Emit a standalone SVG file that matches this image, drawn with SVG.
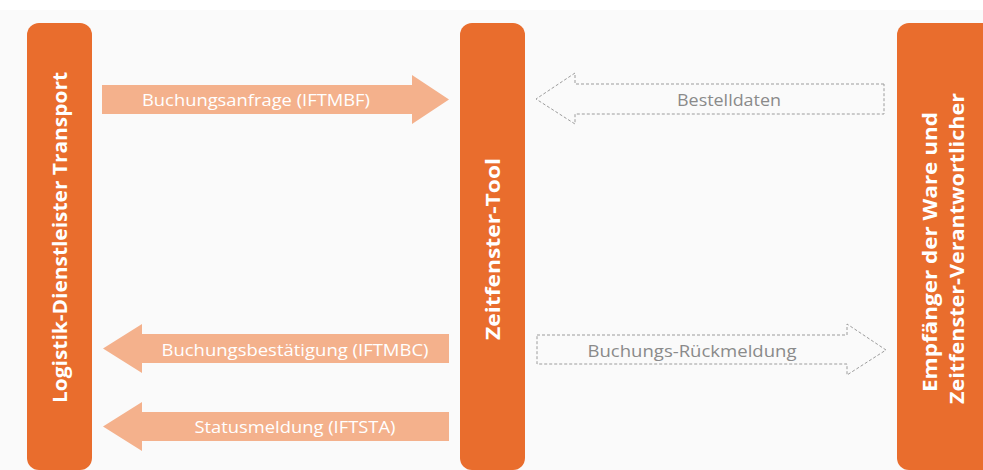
<svg xmlns="http://www.w3.org/2000/svg" width="983" height="470" viewBox="0 0 983 470">
  <defs>
    <style>
      .bar { fill: #e96d2d; }
      .bar-label { fill: #ffffff; font-family: "Open Sans", "Liberation Sans", sans-serif; font-weight: bold; font-size: 20px; text-anchor: middle; }
      .solid-arrow { fill: #f4b18c; }
      .solid-label { fill: #ffffff; font-family: "Open Sans", "Liberation Sans", sans-serif; font-size: 17px; text-anchor: middle; }
      .dashed-arrow { fill: none; stroke: #9c9c9c; stroke-width: 1; stroke-dasharray: 3 2; }
      .dashed-label { fill: #8a8a8a; font-family: "Open Sans", "Liberation Sans", sans-serif; font-size: 17px; text-anchor: middle; }
    </style>
  </defs>

  <!-- page background -->
  <rect x="0" y="0" width="983" height="470" fill="#ffffff"/>
  <rect x="0" y="10" width="983" height="460" fill="#fafafa"/>

  <!-- participants -->
  <g id="logistik-dienstleister">
    <rect class="bar" x="27" y="23" width="65" height="447" rx="12" ry="12"/>
    <text class="bar-label" transform="translate(67,237.5) rotate(-90)" textLength="331" lengthAdjust="spacingAndGlyphs">Logistik-Dienstleister Transport</text>
  </g>

  <g id="zeitfenster-tool">
    <rect class="bar" x="460" y="23" width="65" height="447" rx="12" ry="12"/>
    <text class="bar-label" transform="translate(499.5,249) rotate(-90)" textLength="182" lengthAdjust="spacingAndGlyphs">Zeitfenster-Tool</text>
  </g>

  <g id="empfaenger">
    <rect class="bar" x="897" y="23" width="110" height="447" rx="12" ry="12"/>
    <text class="bar-label" transform="translate(937,252) rotate(-90)" textLength="280" lengthAdjust="spacingAndGlyphs">Empfänger der Ware und</text>
    <text class="bar-label" transform="translate(964,248.5) rotate(-90)" textLength="311" lengthAdjust="spacingAndGlyphs">Zeitfenster-Verantwortlicher</text>
  </g>

  <!-- message arrows -->
  <g id="connectors">
    <g id="buchungsanfrage">
      <polygon class="solid-arrow" points="102,85 412,85 412,75 449,99.5 412,124 412,114 102,114"/>
      <text class="solid-label" x="256" y="105.5" textLength="228" lengthAdjust="spacingAndGlyphs">Buchungsanfrage (IFTMBF)</text>
    </g>
    <g id="bestelldaten">
      <polygon class="dashed-arrow" points="884,84 575,84 575,73 536,99 575,124 575,114 884,114"/>
      <text class="dashed-label" x="729" y="105.5" textLength="104" lengthAdjust="spacingAndGlyphs">Bestelldaten</text>
    </g>
    <g id="buchungsbestaetigung">
      <polygon class="solid-arrow" points="449,334 142,334 142,324 103,348.5 142,373 142,363 449,363"/>
      <text class="solid-label" x="295" y="355.5" textLength="267" lengthAdjust="spacingAndGlyphs">Buchungsbestätigung (IFTMBC)</text>
    </g>
    <g id="buchungs-rueckmeldung">
      <polygon class="dashed-arrow" points="537,335 847,335 847,324 886,350 847,375 847,364 537,364"/>
      <text class="dashed-label" x="692" y="356.5" textLength="209" lengthAdjust="spacingAndGlyphs">Buchungs-Rückmeldung</text>
    </g>
    <g id="statusmeldung">
      <polygon class="solid-arrow" points="449,412 142,412 142,402 103,426.5 142,451 142,441 449,441"/>
      <text class="solid-label" x="295" y="432.5" textLength="201" lengthAdjust="spacingAndGlyphs">Statusmeldung (IFTSTA)</text>
    </g>
  </g>
</svg>
